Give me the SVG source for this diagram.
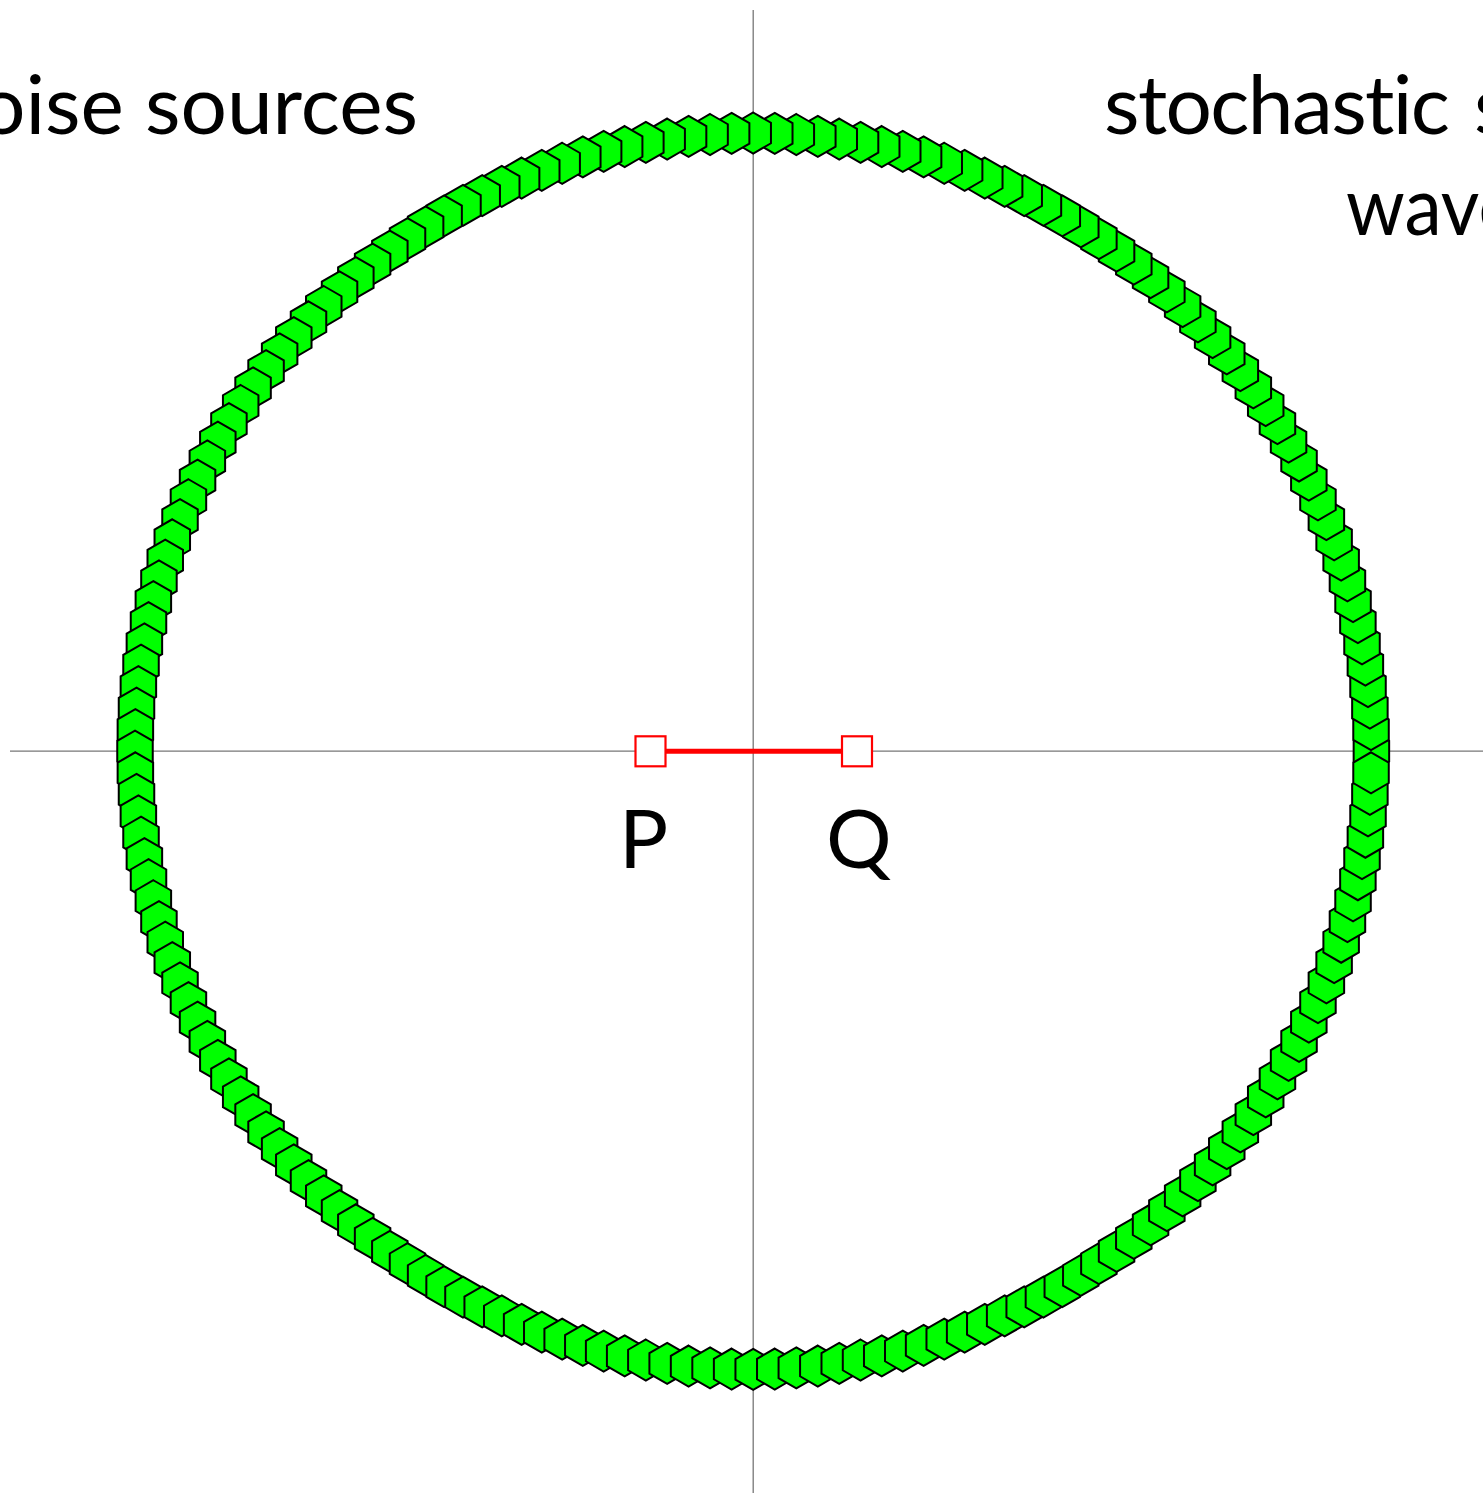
<svg xmlns="http://www.w3.org/2000/svg" xmlns:xlink="http://www.w3.org/1999/xlink" width="1483" height="1493" viewBox="0 0 1483 1493">
<style>
.axis{stroke:#777;stroke-width:1.3;fill:none}
.src{fill:#00ff00;stroke:#000;stroke-width:2;stroke-linejoin:miter}
.node{fill:#fff;stroke:#ff0000;stroke-width:2.2}
.edge{stroke:#ff0000;stroke-width:5;fill:none}
.lbl{font-family:Lato,'Open Sans','DejaVu Sans',sans-serif;font-size:82px;fill:#000;font-variant-ligatures:none}
</style>
<defs>
<polygon id="hex" points="0,-20.5 17.75,-10.25 17.75,10.25 0,20.5 -17.75,10.25 -17.75,-10.25"/>
</defs>
<rect width="1483" height="1493" fill="#fff"/>
<g id="axes">
<line class="axis" x1="10" y1="751.2" x2="1483" y2="751.2"/>
<line class="axis" x1="753.2" y1="10" x2="753.2" y2="1493"/>
</g>
<g id="titles">
<text class="lbl" x="418" y="134" text-anchor="end">oise sources</text>
<text class="lbl" y="134"><tspan x="1104" textLength="346">stochastic</tspan> <tspan x="1474">s</tspan></text>
<text class="lbl" x="1346" y="235" textLength="172" lengthAdjust="spacingAndGlyphs">wave</text>
</g>
<g id="sources">
<use xlink:href="#hex" class="src" transform="rotate(0,753.2,751.2) translate(1371.4,751.2) rotate(0)"/>
<use xlink:href="#hex" class="src" transform="rotate(-2,753.2,751.2) translate(1371.4,751.2) rotate(2)"/>
<use xlink:href="#hex" class="src" transform="rotate(-4,753.2,751.2) translate(1371.4,751.2) rotate(4)"/>
<use xlink:href="#hex" class="src" transform="rotate(-6,753.2,751.2) translate(1371.4,751.2) rotate(6)"/>
<use xlink:href="#hex" class="src" transform="rotate(-8,753.2,751.2) translate(1371.4,751.2) rotate(8)"/>
<use xlink:href="#hex" class="src" transform="rotate(-10,753.2,751.2) translate(1371.4,751.2) rotate(10)"/>
<use xlink:href="#hex" class="src" transform="rotate(-12,753.2,751.2) translate(1371.4,751.2) rotate(12)"/>
<use xlink:href="#hex" class="src" transform="rotate(-14,753.2,751.2) translate(1371.4,751.2) rotate(14)"/>
<use xlink:href="#hex" class="src" transform="rotate(-16,753.2,751.2) translate(1371.4,751.2) rotate(16)"/>
<use xlink:href="#hex" class="src" transform="rotate(-18,753.2,751.2) translate(1371.4,751.2) rotate(18)"/>
<use xlink:href="#hex" class="src" transform="rotate(-20,753.2,751.2) translate(1371.4,751.2) rotate(20)"/>
<use xlink:href="#hex" class="src" transform="rotate(-22,753.2,751.2) translate(1371.4,751.2) rotate(22)"/>
<use xlink:href="#hex" class="src" transform="rotate(-24,753.2,751.2) translate(1371.4,751.2) rotate(24)"/>
<use xlink:href="#hex" class="src" transform="rotate(-26,753.2,751.2) translate(1371.4,751.2) rotate(26)"/>
<use xlink:href="#hex" class="src" transform="rotate(-28,753.2,751.2) translate(1371.4,751.2) rotate(28)"/>
<use xlink:href="#hex" class="src" transform="rotate(-30,753.2,751.2) translate(1371.4,751.2) rotate(30)"/>
<use xlink:href="#hex" class="src" transform="rotate(-32,753.2,751.2) translate(1371.4,751.2) rotate(32)"/>
<use xlink:href="#hex" class="src" transform="rotate(-34,753.2,751.2) translate(1371.4,751.2) rotate(34)"/>
<use xlink:href="#hex" class="src" transform="rotate(-36,753.2,751.2) translate(1371.4,751.2) rotate(36)"/>
<use xlink:href="#hex" class="src" transform="rotate(-38,753.2,751.2) translate(1371.4,751.2) rotate(38)"/>
<use xlink:href="#hex" class="src" transform="rotate(-40,753.2,751.2) translate(1371.4,751.2) rotate(40)"/>
<use xlink:href="#hex" class="src" transform="rotate(-42,753.2,751.2) translate(1371.4,751.2) rotate(42)"/>
<use xlink:href="#hex" class="src" transform="rotate(-44,753.2,751.2) translate(1371.4,751.2) rotate(44)"/>
<use xlink:href="#hex" class="src" transform="rotate(-46,753.2,751.2) translate(1371.4,751.2) rotate(46)"/>
<use xlink:href="#hex" class="src" transform="rotate(-48,753.2,751.2) translate(1371.4,751.2) rotate(48)"/>
<use xlink:href="#hex" class="src" transform="rotate(-50,753.2,751.2) translate(1371.4,751.2) rotate(50)"/>
<use xlink:href="#hex" class="src" transform="rotate(-52,753.2,751.2) translate(1371.4,751.2) rotate(52)"/>
<use xlink:href="#hex" class="src" transform="rotate(-54,753.2,751.2) translate(1371.4,751.2) rotate(54)"/>
<use xlink:href="#hex" class="src" transform="rotate(-56,753.2,751.2) translate(1371.4,751.2) rotate(56)"/>
<use xlink:href="#hex" class="src" transform="rotate(-58,753.2,751.2) translate(1371.4,751.2) rotate(58)"/>
<use xlink:href="#hex" class="src" transform="rotate(-60,753.2,751.2) translate(1371.4,751.2) rotate(60)"/>
<use xlink:href="#hex" class="src" transform="rotate(-62,753.2,751.2) translate(1371.4,751.2) rotate(62)"/>
<use xlink:href="#hex" class="src" transform="rotate(-64,753.2,751.2) translate(1371.4,751.2) rotate(64)"/>
<use xlink:href="#hex" class="src" transform="rotate(-66,753.2,751.2) translate(1371.4,751.2) rotate(66)"/>
<use xlink:href="#hex" class="src" transform="rotate(-68,753.2,751.2) translate(1371.4,751.2) rotate(68)"/>
<use xlink:href="#hex" class="src" transform="rotate(-70,753.2,751.2) translate(1371.4,751.2) rotate(70)"/>
<use xlink:href="#hex" class="src" transform="rotate(-72,753.2,751.2) translate(1371.4,751.2) rotate(72)"/>
<use xlink:href="#hex" class="src" transform="rotate(-74,753.2,751.2) translate(1371.4,751.2) rotate(74)"/>
<use xlink:href="#hex" class="src" transform="rotate(-76,753.2,751.2) translate(1371.4,751.2) rotate(76)"/>
<use xlink:href="#hex" class="src" transform="rotate(-78,753.2,751.2) translate(1371.4,751.2) rotate(78)"/>
<use xlink:href="#hex" class="src" transform="rotate(-80,753.2,751.2) translate(1371.4,751.2) rotate(80)"/>
<use xlink:href="#hex" class="src" transform="rotate(-82,753.2,751.2) translate(1371.4,751.2) rotate(82)"/>
<use xlink:href="#hex" class="src" transform="rotate(-84,753.2,751.2) translate(1371.4,751.2) rotate(84)"/>
<use xlink:href="#hex" class="src" transform="rotate(-86,753.2,751.2) translate(1371.4,751.2) rotate(86)"/>
<use xlink:href="#hex" class="src" transform="rotate(-88,753.2,751.2) translate(1371.4,751.2) rotate(88)"/>
<use xlink:href="#hex" class="src" transform="rotate(-90,753.2,751.2) translate(1371.4,751.2) rotate(90)"/>
<use xlink:href="#hex" class="src" transform="rotate(-92,753.2,751.2) translate(1371.4,751.2) rotate(92)"/>
<use xlink:href="#hex" class="src" transform="rotate(-94,753.2,751.2) translate(1371.4,751.2) rotate(94)"/>
<use xlink:href="#hex" class="src" transform="rotate(-96,753.2,751.2) translate(1371.4,751.2) rotate(96)"/>
<use xlink:href="#hex" class="src" transform="rotate(-98,753.2,751.2) translate(1371.4,751.2) rotate(98)"/>
<use xlink:href="#hex" class="src" transform="rotate(-100,753.2,751.2) translate(1371.4,751.2) rotate(100)"/>
<use xlink:href="#hex" class="src" transform="rotate(-102,753.2,751.2) translate(1371.4,751.2) rotate(102)"/>
<use xlink:href="#hex" class="src" transform="rotate(-104,753.2,751.2) translate(1371.4,751.2) rotate(104)"/>
<use xlink:href="#hex" class="src" transform="rotate(-106,753.2,751.2) translate(1371.4,751.2) rotate(106)"/>
<use xlink:href="#hex" class="src" transform="rotate(-108,753.2,751.2) translate(1371.4,751.2) rotate(108)"/>
<use xlink:href="#hex" class="src" transform="rotate(-110,753.2,751.2) translate(1371.4,751.2) rotate(110)"/>
<use xlink:href="#hex" class="src" transform="rotate(-112,753.2,751.2) translate(1371.4,751.2) rotate(112)"/>
<use xlink:href="#hex" class="src" transform="rotate(-114,753.2,751.2) translate(1371.4,751.2) rotate(114)"/>
<use xlink:href="#hex" class="src" transform="rotate(-116,753.2,751.2) translate(1371.4,751.2) rotate(116)"/>
<use xlink:href="#hex" class="src" transform="rotate(-118,753.2,751.2) translate(1371.4,751.2) rotate(118)"/>
<use xlink:href="#hex" class="src" transform="rotate(-120,753.2,751.2) translate(1371.4,751.2) rotate(120)"/>
<use xlink:href="#hex" class="src" transform="rotate(-122,753.2,751.2) translate(1371.4,751.2) rotate(122)"/>
<use xlink:href="#hex" class="src" transform="rotate(-124,753.2,751.2) translate(1371.4,751.2) rotate(124)"/>
<use xlink:href="#hex" class="src" transform="rotate(-126,753.2,751.2) translate(1371.4,751.2) rotate(126)"/>
<use xlink:href="#hex" class="src" transform="rotate(-128,753.2,751.2) translate(1371.4,751.2) rotate(128)"/>
<use xlink:href="#hex" class="src" transform="rotate(-130,753.2,751.2) translate(1371.4,751.2) rotate(130)"/>
<use xlink:href="#hex" class="src" transform="rotate(-132,753.2,751.2) translate(1371.4,751.2) rotate(132)"/>
<use xlink:href="#hex" class="src" transform="rotate(-134,753.2,751.2) translate(1371.4,751.2) rotate(134)"/>
<use xlink:href="#hex" class="src" transform="rotate(-136,753.2,751.2) translate(1371.4,751.2) rotate(136)"/>
<use xlink:href="#hex" class="src" transform="rotate(-138,753.2,751.2) translate(1371.4,751.2) rotate(138)"/>
<use xlink:href="#hex" class="src" transform="rotate(-140,753.2,751.2) translate(1371.4,751.2) rotate(140)"/>
<use xlink:href="#hex" class="src" transform="rotate(-142,753.2,751.2) translate(1371.4,751.2) rotate(142)"/>
<use xlink:href="#hex" class="src" transform="rotate(-144,753.2,751.2) translate(1371.4,751.2) rotate(144)"/>
<use xlink:href="#hex" class="src" transform="rotate(-146,753.2,751.2) translate(1371.4,751.2) rotate(146)"/>
<use xlink:href="#hex" class="src" transform="rotate(-148,753.2,751.2) translate(1371.4,751.2) rotate(148)"/>
<use xlink:href="#hex" class="src" transform="rotate(-150,753.2,751.2) translate(1371.4,751.2) rotate(150)"/>
<use xlink:href="#hex" class="src" transform="rotate(-152,753.2,751.2) translate(1371.4,751.2) rotate(152)"/>
<use xlink:href="#hex" class="src" transform="rotate(-154,753.2,751.2) translate(1371.4,751.2) rotate(154)"/>
<use xlink:href="#hex" class="src" transform="rotate(-156,753.2,751.2) translate(1371.4,751.2) rotate(156)"/>
<use xlink:href="#hex" class="src" transform="rotate(-158,753.2,751.2) translate(1371.4,751.2) rotate(158)"/>
<use xlink:href="#hex" class="src" transform="rotate(-160,753.2,751.2) translate(1371.4,751.2) rotate(160)"/>
<use xlink:href="#hex" class="src" transform="rotate(-162,753.2,751.2) translate(1371.4,751.2) rotate(162)"/>
<use xlink:href="#hex" class="src" transform="rotate(-164,753.2,751.2) translate(1371.4,751.2) rotate(164)"/>
<use xlink:href="#hex" class="src" transform="rotate(-166,753.2,751.2) translate(1371.4,751.2) rotate(166)"/>
<use xlink:href="#hex" class="src" transform="rotate(-168,753.2,751.2) translate(1371.4,751.2) rotate(168)"/>
<use xlink:href="#hex" class="src" transform="rotate(-170,753.2,751.2) translate(1371.4,751.2) rotate(170)"/>
<use xlink:href="#hex" class="src" transform="rotate(-172,753.2,751.2) translate(1371.4,751.2) rotate(172)"/>
<use xlink:href="#hex" class="src" transform="rotate(-174,753.2,751.2) translate(1371.4,751.2) rotate(174)"/>
<use xlink:href="#hex" class="src" transform="rotate(-176,753.2,751.2) translate(1371.4,751.2) rotate(176)"/>
<use xlink:href="#hex" class="src" transform="rotate(-178,753.2,751.2) translate(1371.4,751.2) rotate(178)"/>
<use xlink:href="#hex" class="src" transform="rotate(-180,753.2,751.2) translate(1371.4,751.2) rotate(180)"/>
<use xlink:href="#hex" class="src" transform="rotate(-182,753.2,751.2) translate(1371.4,751.2) rotate(182)"/>
<use xlink:href="#hex" class="src" transform="rotate(-184,753.2,751.2) translate(1371.4,751.2) rotate(184)"/>
<use xlink:href="#hex" class="src" transform="rotate(-186,753.2,751.2) translate(1371.4,751.2) rotate(186)"/>
<use xlink:href="#hex" class="src" transform="rotate(-188,753.2,751.2) translate(1371.4,751.2) rotate(188)"/>
<use xlink:href="#hex" class="src" transform="rotate(-190,753.2,751.2) translate(1371.4,751.2) rotate(190)"/>
<use xlink:href="#hex" class="src" transform="rotate(-192,753.2,751.2) translate(1371.4,751.2) rotate(192)"/>
<use xlink:href="#hex" class="src" transform="rotate(-194,753.2,751.2) translate(1371.4,751.2) rotate(194)"/>
<use xlink:href="#hex" class="src" transform="rotate(-196,753.2,751.2) translate(1371.4,751.2) rotate(196)"/>
<use xlink:href="#hex" class="src" transform="rotate(-198,753.2,751.2) translate(1371.4,751.2) rotate(198)"/>
<use xlink:href="#hex" class="src" transform="rotate(-200,753.2,751.2) translate(1371.4,751.2) rotate(200)"/>
<use xlink:href="#hex" class="src" transform="rotate(-202,753.2,751.2) translate(1371.4,751.2) rotate(202)"/>
<use xlink:href="#hex" class="src" transform="rotate(-204,753.2,751.2) translate(1371.4,751.2) rotate(204)"/>
<use xlink:href="#hex" class="src" transform="rotate(-206,753.2,751.2) translate(1371.4,751.2) rotate(206)"/>
<use xlink:href="#hex" class="src" transform="rotate(-208,753.2,751.2) translate(1371.4,751.2) rotate(208)"/>
<use xlink:href="#hex" class="src" transform="rotate(-210,753.2,751.2) translate(1371.4,751.2) rotate(210)"/>
<use xlink:href="#hex" class="src" transform="rotate(-212,753.2,751.2) translate(1371.4,751.2) rotate(212)"/>
<use xlink:href="#hex" class="src" transform="rotate(-214,753.2,751.2) translate(1371.4,751.2) rotate(214)"/>
<use xlink:href="#hex" class="src" transform="rotate(-216,753.2,751.2) translate(1371.4,751.2) rotate(216)"/>
<use xlink:href="#hex" class="src" transform="rotate(-218,753.2,751.2) translate(1371.4,751.2) rotate(218)"/>
<use xlink:href="#hex" class="src" transform="rotate(-220,753.2,751.2) translate(1371.4,751.2) rotate(220)"/>
<use xlink:href="#hex" class="src" transform="rotate(-222,753.2,751.2) translate(1371.4,751.2) rotate(222)"/>
<use xlink:href="#hex" class="src" transform="rotate(-224,753.2,751.2) translate(1371.4,751.2) rotate(224)"/>
<use xlink:href="#hex" class="src" transform="rotate(-226,753.2,751.2) translate(1371.4,751.2) rotate(226)"/>
<use xlink:href="#hex" class="src" transform="rotate(-228,753.2,751.2) translate(1371.4,751.2) rotate(228)"/>
<use xlink:href="#hex" class="src" transform="rotate(-230,753.2,751.2) translate(1371.4,751.2) rotate(230)"/>
<use xlink:href="#hex" class="src" transform="rotate(-232,753.2,751.2) translate(1371.4,751.2) rotate(232)"/>
<use xlink:href="#hex" class="src" transform="rotate(-234,753.2,751.2) translate(1371.4,751.2) rotate(234)"/>
<use xlink:href="#hex" class="src" transform="rotate(-236,753.2,751.2) translate(1371.4,751.2) rotate(236)"/>
<use xlink:href="#hex" class="src" transform="rotate(-238,753.2,751.2) translate(1371.4,751.2) rotate(238)"/>
<use xlink:href="#hex" class="src" transform="rotate(-240,753.2,751.2) translate(1371.4,751.2) rotate(240)"/>
<use xlink:href="#hex" class="src" transform="rotate(-242,753.2,751.2) translate(1371.4,751.2) rotate(242)"/>
<use xlink:href="#hex" class="src" transform="rotate(-244,753.2,751.2) translate(1371.4,751.2) rotate(244)"/>
<use xlink:href="#hex" class="src" transform="rotate(-246,753.2,751.2) translate(1371.4,751.2) rotate(246)"/>
<use xlink:href="#hex" class="src" transform="rotate(-248,753.2,751.2) translate(1371.4,751.2) rotate(248)"/>
<use xlink:href="#hex" class="src" transform="rotate(-250,753.2,751.2) translate(1371.4,751.2) rotate(250)"/>
<use xlink:href="#hex" class="src" transform="rotate(-252,753.2,751.2) translate(1371.4,751.2) rotate(252)"/>
<use xlink:href="#hex" class="src" transform="rotate(-254,753.2,751.2) translate(1371.4,751.2) rotate(254)"/>
<use xlink:href="#hex" class="src" transform="rotate(-256,753.2,751.2) translate(1371.4,751.2) rotate(256)"/>
<use xlink:href="#hex" class="src" transform="rotate(-258,753.2,751.2) translate(1371.4,751.2) rotate(258)"/>
<use xlink:href="#hex" class="src" transform="rotate(-260,753.2,751.2) translate(1371.4,751.2) rotate(260)"/>
<use xlink:href="#hex" class="src" transform="rotate(-262,753.2,751.2) translate(1371.4,751.2) rotate(262)"/>
<use xlink:href="#hex" class="src" transform="rotate(-264,753.2,751.2) translate(1371.4,751.2) rotate(264)"/>
<use xlink:href="#hex" class="src" transform="rotate(-266,753.2,751.2) translate(1371.4,751.2) rotate(266)"/>
<use xlink:href="#hex" class="src" transform="rotate(-268,753.2,751.2) translate(1371.4,751.2) rotate(268)"/>
<use xlink:href="#hex" class="src" transform="rotate(-270,753.2,751.2) translate(1371.4,751.2) rotate(270)"/>
<use xlink:href="#hex" class="src" transform="rotate(-272,753.2,751.2) translate(1371.4,751.2) rotate(272)"/>
<use xlink:href="#hex" class="src" transform="rotate(-274,753.2,751.2) translate(1371.4,751.2) rotate(274)"/>
<use xlink:href="#hex" class="src" transform="rotate(-276,753.2,751.2) translate(1371.4,751.2) rotate(276)"/>
<use xlink:href="#hex" class="src" transform="rotate(-278,753.2,751.2) translate(1371.4,751.2) rotate(278)"/>
<use xlink:href="#hex" class="src" transform="rotate(-280,753.2,751.2) translate(1371.4,751.2) rotate(280)"/>
<use xlink:href="#hex" class="src" transform="rotate(-282,753.2,751.2) translate(1371.4,751.2) rotate(282)"/>
<use xlink:href="#hex" class="src" transform="rotate(-284,753.2,751.2) translate(1371.4,751.2) rotate(284)"/>
<use xlink:href="#hex" class="src" transform="rotate(-286,753.2,751.2) translate(1371.4,751.2) rotate(286)"/>
<use xlink:href="#hex" class="src" transform="rotate(-288,753.2,751.2) translate(1371.4,751.2) rotate(288)"/>
<use xlink:href="#hex" class="src" transform="rotate(-290,753.2,751.2) translate(1371.4,751.2) rotate(290)"/>
<use xlink:href="#hex" class="src" transform="rotate(-292,753.2,751.2) translate(1371.4,751.2) rotate(292)"/>
<use xlink:href="#hex" class="src" transform="rotate(-294,753.2,751.2) translate(1371.4,751.2) rotate(294)"/>
<use xlink:href="#hex" class="src" transform="rotate(-296,753.2,751.2) translate(1371.4,751.2) rotate(296)"/>
<use xlink:href="#hex" class="src" transform="rotate(-298,753.2,751.2) translate(1371.4,751.2) rotate(298)"/>
<use xlink:href="#hex" class="src" transform="rotate(-300,753.2,751.2) translate(1371.4,751.2) rotate(300)"/>
<use xlink:href="#hex" class="src" transform="rotate(-302,753.2,751.2) translate(1371.4,751.2) rotate(302)"/>
<use xlink:href="#hex" class="src" transform="rotate(-304,753.2,751.2) translate(1371.4,751.2) rotate(304)"/>
<use xlink:href="#hex" class="src" transform="rotate(-306,753.2,751.2) translate(1371.4,751.2) rotate(306)"/>
<use xlink:href="#hex" class="src" transform="rotate(-308,753.2,751.2) translate(1371.4,751.2) rotate(308)"/>
<use xlink:href="#hex" class="src" transform="rotate(-310,753.2,751.2) translate(1371.4,751.2) rotate(310)"/>
<use xlink:href="#hex" class="src" transform="rotate(-312,753.2,751.2) translate(1371.4,751.2) rotate(312)"/>
<use xlink:href="#hex" class="src" transform="rotate(-314,753.2,751.2) translate(1371.4,751.2) rotate(314)"/>
<use xlink:href="#hex" class="src" transform="rotate(-316,753.2,751.2) translate(1371.4,751.2) rotate(316)"/>
<use xlink:href="#hex" class="src" transform="rotate(-318,753.2,751.2) translate(1371.4,751.2) rotate(318)"/>
<use xlink:href="#hex" class="src" transform="rotate(-320,753.2,751.2) translate(1371.4,751.2) rotate(320)"/>
<use xlink:href="#hex" class="src" transform="rotate(-322,753.2,751.2) translate(1371.4,751.2) rotate(322)"/>
<use xlink:href="#hex" class="src" transform="rotate(-324,753.2,751.2) translate(1371.4,751.2) rotate(324)"/>
<use xlink:href="#hex" class="src" transform="rotate(-326,753.2,751.2) translate(1371.4,751.2) rotate(326)"/>
<use xlink:href="#hex" class="src" transform="rotate(-328,753.2,751.2) translate(1371.4,751.2) rotate(328)"/>
<use xlink:href="#hex" class="src" transform="rotate(-330,753.2,751.2) translate(1371.4,751.2) rotate(330)"/>
<use xlink:href="#hex" class="src" transform="rotate(-332,753.2,751.2) translate(1371.4,751.2) rotate(332)"/>
<use xlink:href="#hex" class="src" transform="rotate(-334,753.2,751.2) translate(1371.4,751.2) rotate(334)"/>
<use xlink:href="#hex" class="src" transform="rotate(-336,753.2,751.2) translate(1371.4,751.2) rotate(336)"/>
<use xlink:href="#hex" class="src" transform="rotate(-338,753.2,751.2) translate(1371.4,751.2) rotate(338)"/>
<use xlink:href="#hex" class="src" transform="rotate(-340,753.2,751.2) translate(1371.4,751.2) rotate(340)"/>
<use xlink:href="#hex" class="src" transform="rotate(-342,753.2,751.2) translate(1371.4,751.2) rotate(342)"/>
<use xlink:href="#hex" class="src" transform="rotate(-344,753.2,751.2) translate(1371.4,751.2) rotate(344)"/>
<use xlink:href="#hex" class="src" transform="rotate(-346,753.2,751.2) translate(1371.4,751.2) rotate(346)"/>
<use xlink:href="#hex" class="src" transform="rotate(-348,753.2,751.2) translate(1371.4,751.2) rotate(348)"/>
<use xlink:href="#hex" class="src" transform="rotate(-350,753.2,751.2) translate(1371.4,751.2) rotate(350)"/>
<use xlink:href="#hex" class="src" transform="rotate(-352,753.2,751.2) translate(1371.4,751.2) rotate(352)"/>
<use xlink:href="#hex" class="src" transform="rotate(-354,753.2,751.2) translate(1371.4,751.2) rotate(354)"/>
<use xlink:href="#hex" class="src" transform="rotate(-356,753.2,751.2) translate(1371.4,751.2) rotate(356)"/>
<use xlink:href="#hex" class="src" transform="rotate(-358,753.2,751.2) translate(1371.4,751.2) rotate(358)"/>
</g>
<g id="connectors">
<line class="edge" x1="665" y1="751.3" x2="842" y2="751.3"/>
</g>
<g id="node-P">
<rect class="node" x="635.5" y="736.3" width="30" height="30"/>
<text class="lbl" x="619" y="868">P</text>
</g>
<g id="node-Q">
<rect class="node" x="842" y="736.3" width="30" height="30"/>
<text class="lbl" x="826" y="868">Q</text>
</g>
</svg>
